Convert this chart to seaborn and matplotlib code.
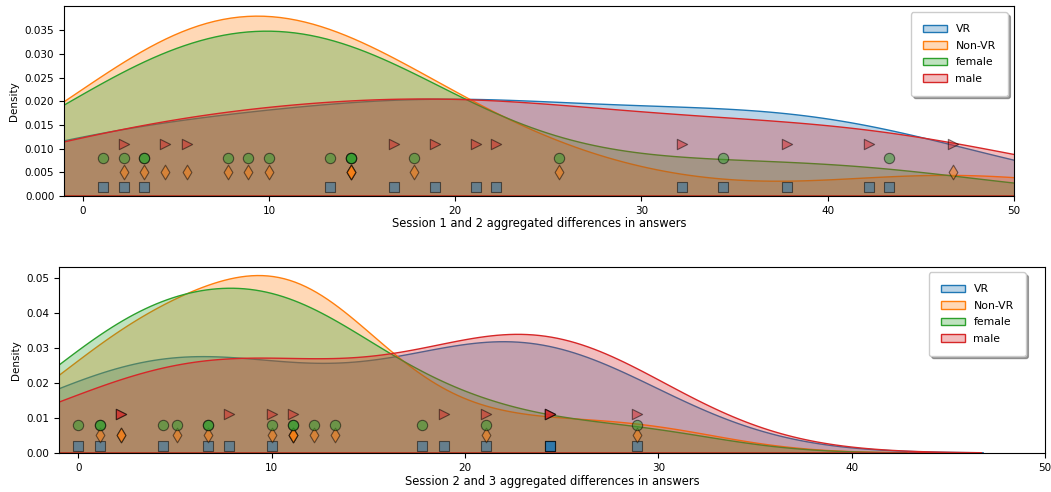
import matplotlib
matplotlib.use("Agg")
import matplotlib.pyplot as plt
import seaborn as sns
import numpy as np
import pandas as pd
from matplotlib.patches import Patch
from matplotlib.colors import to_rgba

# ---------------- data ----------------
# Session 1 -> 2
s12_vr = [1.1, 2.2, 3.3, 13.3, 16.7, 18.9, 21.1, 22.2, 32.2, 34.4, 37.8, 42.2, 43.3]
s12_nonvr = [2.2, 3.3, 4.4, 5.6, 7.8, 8.9, 10.0, 14.4, 14.4, 14.4, 17.8, 25.6, 46.7]
s12_female = [1.1, 2.2, 3.3, 3.3, 7.8, 8.9, 10.0, 13.3, 14.4, 14.4, 14.4, 17.8, 25.6, 34.4, 43.3]
s12_male = [2.2, 4.4, 5.6, 16.7, 18.9, 21.1, 22.2, 32.2, 37.8, 42.2, 46.7]

# Session 2 -> 3
s23_vr = [0.0, 1.1, 4.4, 6.7, 7.8, 10.0, 17.8, 18.9, 21.1, 24.4, 24.4, 24.4, 28.9]
s23_nonvr = [1.1, 2.2, 2.2, 5.1, 6.7, 10.0, 11.1, 11.1, 11.1, 12.2, 13.3, 21.1, 28.9]
s23_female = [0.0, 1.1, 1.1, 4.4, 5.1, 6.7, 6.7, 10.0, 11.1, 11.1, 12.2, 13.3, 17.8, 21.1, 28.9]
s23_male = [2.2, 2.2, 7.8, 10.0, 11.1, 18.9, 21.1, 24.4, 24.4, 24.4, 28.9]

groups = ["VR", "Non-VR", "female", "male"]
markers = ["s", "d", "o", ">"]
rug_levels = [0.002, 0.005, 0.008, 0.011]
xlabels = ["Session 1 and 2 aggregated differences in answers",
           "Session 2 and 3 aggregated differences in answers"]

colors = sns.color_palette("tab10", 4)
FILL_ALPHA = 0.3
FS = 7.5

plt.rcParams["font.family"] = ["DejaVu Sans"]
fig = plt.figure(figsize=(10.51, 4.92), dpi=100)
W, H = 1051, 492

def px_axes(l, r, t, b):
    return fig.add_axes([l / W, 1 - b / H, (r - l) / W, (b - t) / H])

ax1 = px_axes(64, 1014, 6, 196)
ax2 = px_axes(59, 1045, 267, 453)

panels = [
    (ax1, [s12_vr, s12_nonvr, s12_female, s12_male], 0.0401, np.arange(0, 0.0351, 0.005), "%.3f", (1013, 7)),
    (ax2, [s23_vr, s23_nonvr, s23_female, s23_male], 0.053, np.arange(0, 0.051, 0.01), "%.2f", (1031, 267)),
]

for ax, data, ytop, yticks, yfmt, legpos in panels:
    for vals, col in zip(data, colors):
        sns.kdeplot(x=vals, ax=ax, fill=True, color=col, alpha=FILL_ALPHA, linewidth=1.0)
    for vals, col, mk, lvl in zip(data, colors, markers, rug_levels):
        sns.scatterplot(x=vals, y=[lvl] * len(vals), ax=ax, color=col, marker=mk,
                        s=55, alpha=0.5, edgecolor="black", linewidth=0.8, zorder=5)
    ax.set_xlim(-1, 50)
    ax.set_ylim(0, ytop)
    ax.set_xticks(np.arange(0, 51, 10))
    ax.set_yticks(yticks)
    ax.set_yticklabels([yfmt % v for v in yticks])
    ax.tick_params(labelsize=FS, length=3.5)
    ax.set_ylabel("Density", fontsize=FS)
    handles = [Patch(facecolor=to_rgba(c, FILL_ALPHA), edgecolor=c, linewidth=1.0) for c in colors]
    ax.legend(handles, groups, loc="upper right",
              bbox_to_anchor=(legpos[0] / W, 1 - legpos[1] / H), bbox_transform=fig.transFigure,
              fontsize=7.8, shadow=True, borderpad=1.1, labelspacing=0.6,
              handlelength=2.2, handletextpad=0.8, fancybox=True, framealpha=1.0)

ax1.set_xlabel(xlabels[0], fontsize=8.3, labelpad=1)
ax2.set_xlabel(xlabels[1], fontsize=8.3, labelpad=2)

fig.savefig("out.png", dpi=100)
